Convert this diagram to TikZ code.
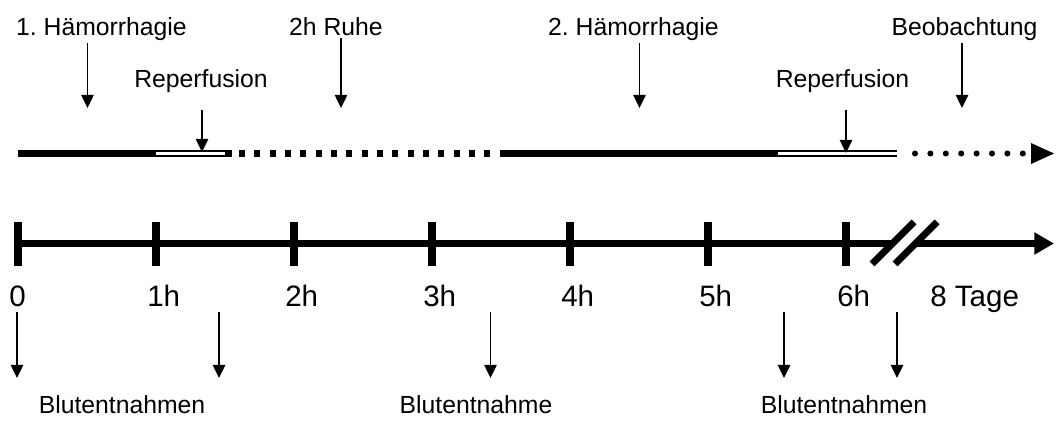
\documentclass[tikz,border=0pt]{standalone}
\usepackage{fontspec}
\setmainfont{Liberation Sans}
\usetikzlibrary{arrows.meta}
\frenchspacing

\tikzset{
    lbl/.style={font=\fontsize{17.6}{20}\selectfont, inner sep=0pt, anchor=base},
    tck/.style={font=\fontsize{21}{24}\selectfont, inner sep=0pt, anchor=base west},
    arr/.style={line width=1.4pt, -{Triangle[length=9.4pt,width=8.8pt]}},
    bar/.style={line width=5pt},
    hollow/.style={line width=1.4pt, double=white, double distance=2.2pt},
}

\begin{document}
\begin{tikzpicture}[x=0.025cm, y=-0.025cm]
    \useasboundingbox (0,0) rectangle (1058,422);

    % Phases
    \draw[bar] (18,153.5) -- (232,153.5);
    \draw[hollow] (156,153.5) -- (225,153.5);
    \draw[bar, dash pattern=on 4.3pt off 6.6pt] (239,153.5) -- (501,153.5);
    \draw[bar] (500,153.5) -- (778,153.5);
    \draw[hollow] (778,153.5) -- (897,153.5);
    \draw[line width=4.3pt, line cap=round, dash pattern=on 0pt off 10.95pt] (915,153.5) -- (1024,153.5);
    \fill (1031,143) -- (1054,153.5) -- (1031,164) -- cycle;

    % Time axis
    \draw[bar, -{Triangle[length=14pt,width=15pt]}] (18,243.5) -- (1054,243.5);
    \foreach \i/\t in {0/0,1/1h,2/2h,3/3h,4/4h,5/5h,6/6h} {
        \draw[bar] (18+138*\i,222) -- (18+138*\i,266);
        \node[tck] (t\i) at (9+138*\i,306) {\t};
    }
    \node[tck] (t8) at (930,306) {8 Tage};

    % Break
    \fill[white] (872,264) -- (914,222) -- (937,222) -- (895,264) -- cycle;
    \draw[bar] (872,264) -- (914,222);
    \draw[bar] (895,264) -- (937,222);

    % Phase labels
    \node[lbl] (h1) at (101.5,35) {1. Hämorrhagie};
    \node[lbl] (ruhe) at (336,35) {2h Ruhe};
    \node[lbl] (h2) at (633.5,35) {2. Hämorrhagie};
    \node[lbl] (beob) at (964.5,35) {Beobachtung};
    \node[lbl] (rep1) at (201,87.3) {Reperfusion};
    \node[lbl] (rep2) at (842.5,87.3) {Reperfusion};

    \coordinate (a1) at (87.5,108);
    \coordinate (a2) at (341,108);
    \coordinate (a3) at (639.5,108);
    \coordinate (a4) at (962,108);
    \coordinate (r1) at (202,152);
    \coordinate (r2) at (846,153);

    \draw[arr, shorten <=2pt] (h1.south -| a1) -- (a1);
    \draw[arr, shorten <=2pt] (ruhe.south -| a2) -- (a2);
    \draw[arr, shorten <=2pt] (h2.south -| a3) -- (a3);
    \draw[arr, shorten <=2pt] (beob.south -| a4) -- (a4);
    \draw[arr, shorten <=12pt] (rep1.south -| r1) -- (r1);
    \draw[arr, shorten <=12pt] (rep2.south -| r2) -- (r2);

    % Blood samples
    \foreach \x [count=\k] in {17,219,490.5,784,897} {
        \coordinate (s\k) at (\x,312);
        \coordinate (e\k) at (\x,378);
        \draw[arr] (s\k) -- (e\k);
    }
    \node[lbl] (b1) at (122,413.3) {Blutentnahmen};
    \node[lbl] (b2) at (476,413.3) {Blutentnahme};
    \node[lbl] (b3) at (844,413.3) {Blutentnahmen};
\end{tikzpicture}
\end{document}
